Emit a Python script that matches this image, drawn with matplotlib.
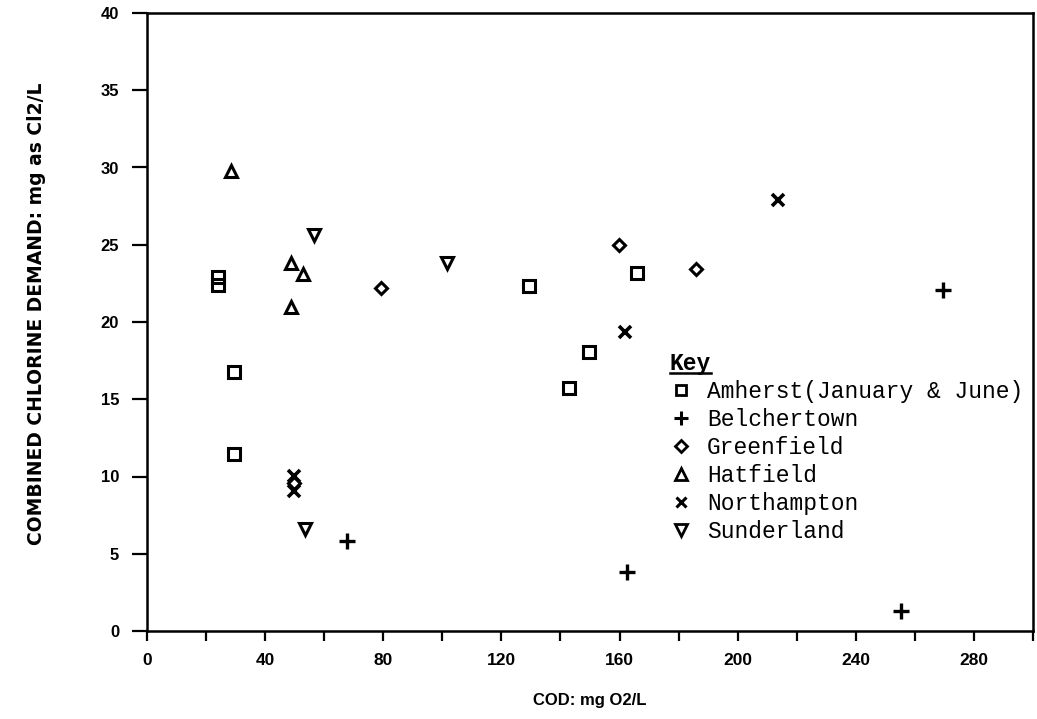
import matplotlib
matplotlib.use("Agg")
from matplotlib import pyplot as plt
from matplotlib.lines import Line2D

# data (COD vs combined chlorine demand)
amherst_x = [24, 24, 29.3, 29.3, 129.5, 142.8, 149.8, 165.9]
amherst_y = [22.9, 22.4, 16.75, 11.45, 22.3, 15.7, 18.05, 23.2]
belcher_x = [67.6, 162.5, 255.4, 269.5]
belcher_y = [5.8, 3.85, 1.3, 22.1]
green_x = [49.9, 79.2, 159.7, 185.8]
green_y = [9.6, 22.2, 25.0, 23.45]
hat_x = [28.4, 48.75, 52.9, 48.75]
hat_y = [29.8, 23.8, 23.1, 21.0]
north_x = [49.9, 49.9, 161.9, 213.5]
north_y = [10.05, 9.08, 19.35, 27.9]
sund_x = [53.5, 56.7, 101.7]
sund_y = [6.6, 25.6, 23.8]

labels = ["Amherst(January & June)", "Belchertown", "Greenfield",
          "Hatfield", "Northampton", "Sunderland"]
xticks = list(range(0, 301, 20))
xticklabels = [str(t) if t % 40 == 0 and t < 300 else "" for t in xticks]
yticks = list(range(0, 41, 5))

plt.rcParams['font.family'] = ['Liberation Sans', 'DejaVu Sans']
plt.rcParams['font.weight'] = 'bold'

W, H = 1037, 719
fig = plt.figure(figsize=(W / 100, H / 100), dpi=100)
# axes box in pixels: left 147, right 1033, top 13, bottom 631
ax = fig.add_axes([147 / W, (H - 631) / H, (1033 - 147) / W, (631 - 13) / H])

mk = dict(linestyle='none', color='black', markerfacecolor='none')
ax.plot(amherst_x, amherst_y, marker='s', markersize=8, mew=2.2, **mk)
ax.plot(belcher_x, belcher_y, marker='+', markersize=11, mew=2.4, **mk)
ax.plot(green_x, green_y, marker='D', markersize=6, mew=2.2, **mk)
ax.plot(hat_x, hat_y, marker='^', markersize=8, mew=2.2, **mk)
ax.plot(north_x, north_y, marker='x', markersize=8, mew=2.6, **mk)
ax.plot(sund_x, sund_y, marker='v', markersize=8, mew=2.2, **mk)

ax.set_xlim(0, 300)
ax.set_ylim(0, 40)
ax.set_xticks(xticks)
ax.set_xticklabels(xticklabels)
ax.set_yticks(yticks)
ax.tick_params(axis='x', direction='out', length=7, width=1.6, pad=9, labelsize=12.5)
ax.tick_params(axis='y', direction='out', length=11, width=1.6, pad=9, labelsize=12)
for s in ax.spines.values():
    s.set_linewidth(1.8)

fig.text(590 / W, 1 - 700 / H, "COD: mg O2/L", ha='center', va='center', fontsize=12)
fig.text(37 / W, 1 - 314 / H, "COMBINED CHLORINE DEMAND: mg as Cl2/L",
         ha='center', va='center', rotation=90, fontsize=13.5, family='DejaVu Sans')

handles = [
    Line2D([], [], marker='s', markersize=7, mew=2.0, **mk),
    Line2D([], [], marker='+', markersize=10, mew=2.2, **mk),
    Line2D([], [], marker='D', markersize=6, mew=2.0, **mk),
    Line2D([], [], marker='^', markersize=8, mew=2.0, **mk),
    Line2D([], [], marker='x', markersize=7, mew=2.2, **mk),
    Line2D([], [], marker='v', markersize=8, mew=2.0, **mk),
]
leg = ax.legend(handles, labels, loc='upper left', bbox_to_anchor=(0.590, 0.452),
                frameon=False, borderpad=0, borderaxespad=0, handlelength=1.0,
                handletextpad=0.63, labelspacing=0.22, title="Key", alignment='left',
                prop={'family': 'Liberation Mono', 'size': 16.5, 'weight': 'normal'},
                title_fontproperties={'family': 'Liberation Mono', 'size': 16.5})

# underline the "Key" title
fig.canvas.draw()
bb = leg.get_title().get_window_extent()
fig.add_artist(Line2D([bb.x0 / W, bb.x1 / W], [(bb.y0 + 2) / H, (bb.y0 + 2) / H],
                      color='black', lw=1.8))

fig.savefig("out.png", dpi=100)
